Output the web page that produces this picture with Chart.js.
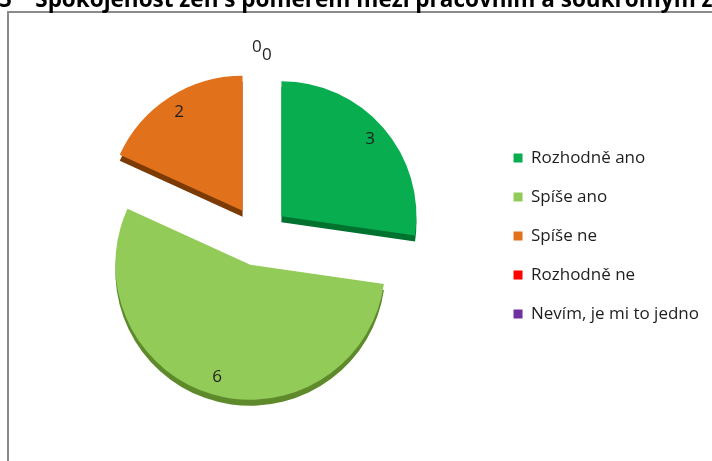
<!DOCTYPE html>
<html>
<head>
<meta charset="utf-8">
<script src="https://cdn.jsdelivr.net/npm/chart.js@4.4.1/dist/chart.umd.min.js"></script>
<style>
  html, body { margin: 0; padding: 0; background: #fff; overflow: hidden; }
  #wrap { position: relative; width: 712px; height: 461px; }
</style>
</head>
<body>
<div id="wrap"><canvas id="graf"></canvas></div>
<script>
// Odpovědi a počty žen
const kategorie = ['Rozhodně ano', 'Spíše ano', 'Spíše ne', 'Rozhodně ne', 'Nevím, je mi to jedno'];
const pocty = [3, 6, 2, 0, 0];
const nadpis = '5\u00a0\u00a0\u00a0\u00a0Spokojenost žen s poměrem mezi pracovním a soukromým životem';

// Barvy výsečí a jejich tmavší boky (3D hloubka)
const barvy = ['#08ad50', '#92cb57', '#e2711b', '#ff0000', '#7030a0'];
const barvyBoku = ['#00722f', '#5e8a2c', '#7c3a05', '#900000', '#3e1a5a'];
const VYSUNUTI = 30;   // o kolik px jsou výseče odtažené od středu
const HLOUBKA = 6;

// Nadpis a rámeček kreslíme sami, aby mohl přesahovat okraj
const nadpisPlugin = {
    id: 'nadpis',
    beforeDraw(chart) {
        const ctx = chart.ctx;
        ctx.save();
        ctx.fillStyle = '#8a8a8a';
        ctx.fillRect(7, 11, 2, chart.height);
        ctx.fillRect(7, 11, chart.width, 2);
        ctx.restore();
    },
    afterDraw(chart) {
        const ctx = chart.ctx;
        ctx.save();
        ctx.font = 'bold 22.5px "Open Sans"';
        ctx.fillStyle = '#000';
        ctx.textAlign = 'left';
        ctx.textBaseline = 'alphabetic';
        ctx.fillText(nadpis, -1, 7);
        ctx.restore();
    }
};

// Rozložený koláč: každá výseč posunutá od středu, pod ní tmavý bok
const kolacPlugin = {
    id: 'kolac',
    beforeDatasetDraw(chart, args) {
        const ctx = chart.ctx;
        const oblouky = args.meta.data;
        // boky
        oblouky.forEach((arc, i) => {
            const p = arc.getProps(['x', 'y', 'startAngle', 'endAngle', 'outerRadius', 'circumference']);
            if (!p.circumference) return;
            const stred = (p.startAngle + p.endAngle) / 2;
            const cx = p.x + Math.cos(stred) * VYSUNUTI;
            const cy = p.y + Math.sin(stred) * VYSUNUTI + HLOUBKA;
            ctx.save();
            ctx.beginPath();
            ctx.moveTo(cx, cy);
            ctx.arc(cx, cy, p.outerRadius, p.startAngle, p.endAngle);
            ctx.closePath();
            ctx.fillStyle = barvyBoku[i];
            ctx.fill();
            ctx.restore();
        });
        // horní plochy
        oblouky.forEach((arc) => {
            const stred = (arc.startAngle + arc.endAngle) / 2;
            ctx.save();
            ctx.translate(Math.cos(stred) * VYSUNUTI, Math.sin(stred) * VYSUNUTI);
            arc.draw(ctx, chart.chartArea);
            ctx.restore();
        });
        return false;
    }
};

// Popisky hodnot (nulové hodnoty nad koláčem)
const popiskyPlugin = {
    id: 'popisky',
    afterDatasetsDraw(chart) {
        const ctx = chart.ctx;
        const data = chart.data.datasets[0].data;
        let nuly = 0;
        ctx.save();
        ctx.font = '17px "Open Sans"';
        ctx.fillStyle = '#1e1e1e';
        ctx.textAlign = 'center';
        ctx.textBaseline = 'middle';
        chart.getDatasetMeta(0).data.forEach((arc, i) => {
            const p = arc.getProps(['x', 'y', 'startAngle', 'endAngle', 'outerRadius']);
            const stred = (p.startAngle + p.endAngle) / 2;
            let x, y;
            if (data[i] > 0) {
                const d = VYSUNUTI + p.outerRadius * 0.87;
                x = p.x + Math.cos(stred) * d;
                y = p.y + Math.sin(stred) * d;
            } else {
                x = p.x - 2 + nuly * 10;
                y = p.y - VYSUNUTI - p.outerRadius - 24 + nuly * 8;
                nuly++;
            }
            ctx.fillText(String(data[i]), x, y);
        });
        ctx.restore();
    }
};

const ctx = document.getElementById('graf').getContext('2d');
new Chart(ctx, {
    type: 'pie',
    data: {
        labels: kategorie,
        datasets: [{
            data: pocty,
            backgroundColor: barvy,
            borderWidth: 0
        }]
    },
    options: {
        responsive: true,
        maintainAspectRatio: false,
        animation: false,
        events: [],
        radius: 135,
        layout: { padding: { left: 26, right: 3, top: 11, bottom: 0 } },
        plugins: {
            tooltip: { enabled: false },
            title: { display: false },
            legend: {
                position: 'right',
                labels: {
                    boxWidth: 9,
                    boxHeight: 9,
                    padding: 22,
                    color: '#1e1e1e',
                    font: { family: '"Open Sans"', size: 17 }
                }
            }
        }
    },
    plugins: [nadpisPlugin, kolacPlugin, popiskyPlugin]
});
</script>
</body>
</html>
